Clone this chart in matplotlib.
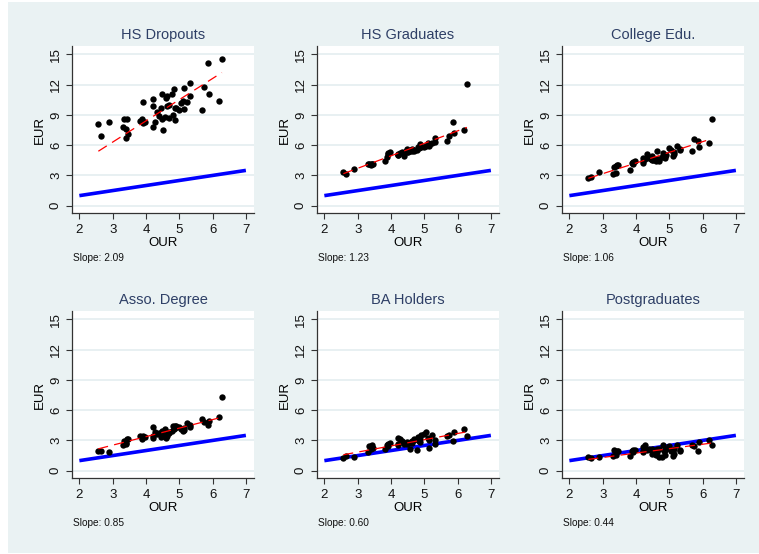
import numpy as np
import matplotlib
matplotlib.use("Agg")
import matplotlib.pyplot as plt
from matplotlib.patches import Rectangle

plt.rcParams['font.family'] = ['Liberation Sans', 'DejaVu Sans']

titles = ["HS Dropouts", "HS Graduates", "College Edu.",
          "Asso. Degree", "BA Holders", "Postgraduates"]
slope_labels = ["Slope: 2.09", "Slope: 1.23", "Slope: 1.06",
                "Slope: 0.85", "Slope: 0.60", "Slope: 0.44"]

our = [2.57, 2.64, 2.89, 3.32, 3.35, 3.40, 3.40, 3.42, 3.47, 3.82,
       3.88, 3.92, 3.92, 3.98, 4.21, 4.21, 4.21, 4.28, 4.34, 4.38,
       4.46, 4.48, 4.48, 4.52, 4.58, 4.60, 4.63, 4.64, 4.68, 4.69,
       4.78, 4.81, 4.83, 4.86, 4.88, 4.91, 4.99, 5.04, 5.11, 5.13,
       5.15, 5.24, 5.32, 5.33, 5.69, 5.75, 5.85, 5.88, 6.19, 6.28]

eur_dropouts = [8.05, 6.9, 8.25, 7.8, 8.55, 7.55, 6.75, 8.6, 7.15, 8.4,
                8.55, 8.15, 10.3, 8.3, 10.55, 9.87, 7.8, 8.25, 9.24, 8.88,
                9.67, 11.1, 8.55, 7.52, 8.75, 10.66, 10.86, 9.87, 8.71, 9.97,
                11.06, 9.0, 11.55, 9.64, 8.5, 9.64, 9.47, 10.13, 10.33, 11.68,
                9.54, 10.26, 12.18, 10.86, 9.5, 11.78, 14.09, 11.06, 10.36, 14.52]
eur_hsgrad = [3.3, 3.1, 3.63, 4.1, 4.15, 4.05, 4.1, 4.15, 4.1, 4.45,
              4.85, 5.25, 5.1, 5.28, 5.0, 5.1, 5.05, 5.2, 5.35, 4.9,
              5.4, 5.58, 5.3, 5.35, 5.45, 5.5, 5.4, 5.6, 5.55, 5.45,
              5.55, 5.8, 5.7, 6.07, 5.8, 5.85, 5.84, 5.9, 6.24, 6.0,
              5.95, 6.2, 6.67, 6.3, 6.4, 6.93, 8.25, 7.23, 7.46, 12.08]
eur_college = [2.77, 2.84, 3.37, 3.1, 3.8, 3.9, 3.2, 4.0, 4.0, 3.53,
               4.2, 4.3, 4.1, 4.39, 4.2, 4.7, 4.4, 4.6, 5.08, 4.7,
               4.65, 4.9, 4.55, 4.5, 4.6, 4.45, 5.4, 4.6, 4.45, 4.6,
               4.8, 5.25, 4.95, 4.7, 4.9, 5.0, 5.68, 5.5, 4.9, 5.3,
               5.1, 5.94, 5.5, 5.6, 5.45, 6.63, 6.37, 5.84, 6.24, 8.55]
eur_asso = [1.95, 2.0, 1.85, 2.54, 2.97, 2.75, 2.6, 3.13, 3.13, 3.47,
            3.1, 3.47, 3.3, 3.3, 4.29, 3.2, 3.4, 3.86, 3.6, 3.7,
            3.3, 3.9, 3.5, 3.4, 4.1, 3.2, 3.6, 3.45, 3.75, 3.85,
            3.9, 4.46, 4.1, 4.46, 4.2, 4.4, 4.3, 4.15, 3.9, 4.2,
            4.0, 4.72, 4.3, 4.5, 5.1, 4.85, 4.5, 4.95, 5.3, 7.26]
eur_ba = [1.25, 1.5, 1.35, 1.88, 2.4, 2.2, 2.45, 2.5, 2.3, 2.15,
          2.5, 2.4, 2.6, 2.7, 2.6, 3.2, 2.5, 3.1, 2.9, 2.65,
          2.75, 2.85, 2.6, 2.7, 2.15, 2.8, 2.9, 2.75, 3.0, 3.1,
          2.1, 3.37, 2.9, 3.1, 2.8, 3.5, 3.6, 3.86, 3.2, 3.0,
          2.3, 3.5, 3.0, 2.6, 3.45, 3.5, 2.95, 3.8, 4.13, 3.47]
eur_post = [1.39, 1.26, 1.39, 1.49, 2.1, 1.6, 1.9, 1.95, 1.95, 1.45,
            2.0, 2.05, 1.9, 2.1, 1.85, 2.35, 2.0, 2.5, 2.1, 2.2,
            2.1, 2.2, 1.7, 2.0, 1.7, 1.6, 2.15, 1.9, 1.4, 2.2,
            1.4, 2.5, 2.0, 2.1, 1.55, 2.2, 2.4, 2.0, 1.5, 1.7,
            2.2, 2.5, 2.0, 2.1, 2.55, 2.4, 1.95, 2.85, 3.0, 2.5]

series = [eur_dropouts, eur_hsgrad, eur_college, eur_asso, eur_ba, eur_post]

ref_x = [2, 7]
ref_y = [1, 3.5]

xticks = [2, 3, 4, 5, 6, 7]
yticks = [0, 3, 6, 9, 12, 15]

BG = '#eaf2f3'
GRID = '#e4eef0'
TITLE_C = '#2e3f66'

W, H = 759, 554
fig = plt.figure(figsize=(W / 100, H / 100), dpi=100)
fig.patch.set_facecolor('white')
fig.patches.append(Rectangle((8 / W, 1 - 553 / H), (W - 8) / W, (553 - 2) / H,
                             transform=fig.transFigure, facecolor=BG,
                             edgecolor='none', zorder=-10))

lefts = [71.7, 316.7, 561.7]
tops = [46, 311]
aw, ah = 182.5, 167.3

x = np.array(our)
for i, (ys, title, sl) in enumerate(zip(series, titles, slope_labels)):
    r, c = divmod(i, 3)
    L, T = lefts[c], tops[r]
    ax = fig.add_axes([L / W, 1 - (T + ah) / H, aw / W, ah / H])
    ax.set_facecolor('white')
    y = np.array(ys)
    ax.set_xlim(1.77, 7.25)
    ax.set_ylim(-0.75, 15.82)
    for yt in yticks:
        ax.axhline(yt, color=GRID, lw=1.2, zorder=0)
    ax.plot(ref_x, ref_y, color='#0000ff', lw=2.6, solid_capstyle='butt', zorder=2)
    ax.scatter(x, y, s=21, color='black', zorder=3, linewidths=0)
    # fitted line through the origin
    b = np.sum(x * y) / np.sum(x * x)
    xf = np.array([x.min(), x.max()])
    ax.plot(xf, b * xf, color='#ff0000', lw=0.9, dashes=(8, 5), zorder=4)
    ax.set_xticks(xticks)
    ax.set_yticks(yticks)
    ax.set_yticklabels([str(t) for t in yticks], rotation=90, va='center')
    ax.tick_params(axis='both', labelsize=9.5, length=4.5, width=0.8,
                   color='#333333', labelcolor='#111111', pad=3)
    ax.tick_params(axis='y', pad=2.5)
    for s in ['top', 'right']:
        ax.spines[s].set_visible(False)
    for s in ['left', 'bottom']:
        ax.spines[s].set_color('#333333')
        ax.spines[s].set_linewidth(0.9)
    ax.set_xlabel('OUR', fontsize=9.5, labelpad=1)
    ax.set_ylabel('EUR', fontsize=9.5, labelpad=3)
    ax.set_title(title, fontsize=10.5, color=TITLE_C, pad=5)
    fig.text((L + 1.5) / W, 1 - (T + 212) / H, sl, fontsize=7.3,
             va='center', ha='left', color='#111111')

fig.savefig('out.png', dpi=100, facecolor=fig.get_facecolor())
